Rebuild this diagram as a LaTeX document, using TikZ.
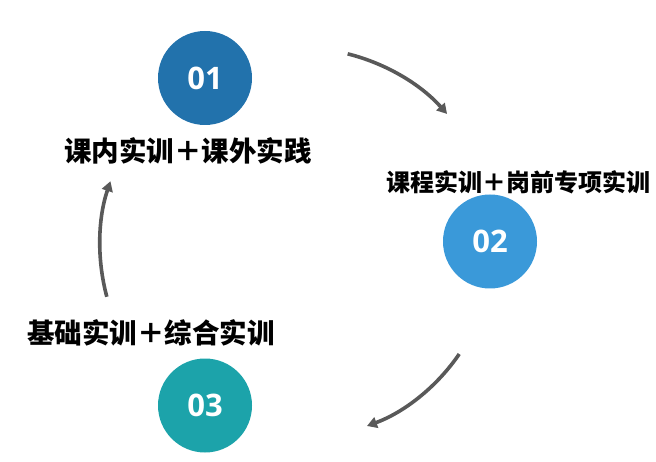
\documentclass[tikz,border=0pt]{standalone}
\usepackage{fontspec}
\newfontfamily\cjk{Noto Sans CJK SC}
\newfontfamily\numfont{Open Sans}
\usetikzlibrary{arrows.meta}
\definecolor{cone}{HTML}{2272AC}
\definecolor{ctwo}{HTML}{3A99D9}
\definecolor{cthree}{HTML}{1CA3AA}
\definecolor{arrowgray}{HTML}{595959}
\tikzset{
  numcircle/.style={circle, minimum size=94pt, inner sep=0pt, text=white,
    font=\numfont\bfseries\fontsize{31}{31}\selectfont},
  caption/.style={inner sep=0pt, text=black, font=\cjk\bfseries\fontsize{27.5}{28}\selectfont},
  smallcaption/.style={inner sep=0pt, text=black, font=\cjk\bfseries\fontsize{24}{24}\selectfont},
  flowarrow/.style={draw=arrowgray, line width=3.6pt, -{Triangle[length=10pt,width=11pt]}}
}
\begin{document}
\begin{tikzpicture}[x=1pt,y=1pt]
\useasboundingbox (0,0) rectangle (656,461);
\node[numcircle, fill=cone] (n1) at (205,383) {01};
\node[numcircle, fill=ctwo] (n2) at (490,219.5) {02};
\node[numcircle, fill=cthree] (n3) at (205,55.5) {03};
\node[caption] (t1) at (188,310) {课内实训＋课外实践};
\node[smallcaption] (t2) at (518,279) {课程实训＋岗前专项实训};
\node[caption] (t3) at (151,128) {基础实训＋综合实训};
\coordinate (c) at (300,216);
\coordinate (a1s) at ([shift={(76:197)}]c);
\coordinate (a2s) at ([shift={(-34.4:193)}]c);
\coordinate (a3s) at ([shift={(195:200)}]c);
\draw[flowarrow] (a1s) arc[start angle=76, end angle=41.7, radius=197];
\draw[flowarrow] (a2s) arc[start angle=-34.4, end angle=-69.7, radius=193];
\draw[flowarrow] (a3s) arc[start angle=195, end angle=161.4, radius=200];
\end{tikzpicture}
\end{document}
